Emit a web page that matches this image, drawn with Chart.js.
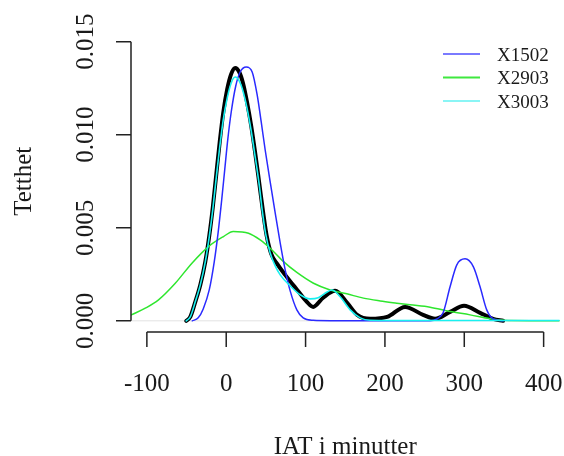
<!DOCTYPE html>
<html>
<head>
<meta charset="utf-8">
<script src="https://cdn.jsdelivr.net/npm/chart.js@4.4.0/dist/chart.umd.min.js"></script>
<style>
html, body { margin: 0; padding: 0; background: #fff; }
#wrap { width: 564px; height: 456px; }
</style>
</head>
<body>
<div id="wrap"><canvas id="grafico" width="564" height="456"></canvas></div>
<script>
// Akser og tekst
var xTicks = [-100, 0, 100, 200, 300, 400];
var yTicks = [0, 0.005, 0.010, 0.015];
var yTickLabels = ['0.000', '0.005', '0.010', '0.015'];
var xTittel = 'IAT i minutter';
var yTittel = 'Tetthet';
var legendLabels = ['X1502', 'X2903', 'X3003'];

// Tetthet for X1502 (blå)
var x1502X = [-42.8, -35.3, -29.0, -21.4, -15.1, -10.1, -5.7, -1.9, 1.9, 6.3, 12.0, 17.6, 25.2, 32.7, 39.0, 44.1, 49.1, 55.4, 61.7, 68.0, 74.3, 80.6, 89.0, 97.0, 109.6, 131.0, 200, 256.9, 265.7, 273.3, 282.1, 290.6, 301.0, 311.5, 319.9, 328.3, 336.3, 348.9];
var x1502Y = [0, 0.00016, 0.00064, 0.00166, 0.00317, 0.00478, 0.0065, 0.00811, 0.00972, 0.01122, 0.01262, 0.01337, 0.01364, 0.01337, 0.01214, 0.01069, 0.00918, 0.00747, 0.0058, 0.00419, 0.00274, 0.00161, 0.00059, 0.00016, 0.00003, 0.00001, 0.00001, 0.00001, 0.00011, 0.00043, 0.00183, 0.00301, 0.00333, 0.0029, 0.00183, 0.00059, 0.00011, 0];

// Tetthet for X2903 (grønn)
var x2903X = [-119.6, -102.0, -85.3, -64.2, -43.2, -22.3, -3.4, 8.8, 28.1, 42.8, 55.4, 72.2, 89.0, 110.0, 131.0, 152.0, 172.9, 194.0, 215.0, 231.7, 256.9, 282.1, 307.3, 332.5, 348.9, 382.9, 420];
var x2903Y = [0.00032, 0.00068, 0.00113, 0.00202, 0.0031, 0.00399, 0.00453, 0.0048, 0.00471, 0.00435, 0.0039, 0.00318, 0.0026, 0.00202, 0.00166, 0.00145, 0.00122, 0.00107, 0.00095, 0.00086, 0.00073, 0.0005, 0.00032, 0.00011, 0.00003, 0.00001, 0.00001];

// Tetthet for X3003 (cyan)
var x3003X = [-50.4, -45.3, -39.0, -32.7, -26.4, -21.4, -17.0, -12.6, -8.2, -3.8, 1.3, 6.3, 11.3, 16.4, 21.4, 26.4, 31.5, 36.5, 41.6, 45.3, 49.7, 55.4, 61.7, 68.0, 80.6, 93.2, 105.8, 115.9, 123.4, 133.5, 143.6, 156.2, 168.8, 181.4, 206.5, 260, 320, 380, 420];
var x3003Y = [0, 0.00021, 0.00102, 0.00193, 0.00317, 0.00451, 0.00596, 0.00768, 0.00934, 0.01079, 0.01198, 0.01278, 0.0131, 0.01289, 0.0123, 0.01139, 0.0102, 0.00881, 0.0073, 0.00596, 0.00467, 0.00365, 0.00295, 0.00247, 0.00188, 0.0014, 0.00118, 0.00124, 0.00145, 0.00166, 0.00129, 0.00059, 0.00016, 0.00003, 0.00002, 0.00002, 0.00002, 0.00002, 0.00002];

// Tetthet for alle (svart, tykk)
var alleX = [-50.4, -45.3, -39.0, -32.7, -26.4, -21.4, -17.0, -12.6, -8.2, -3.8, 1.3, 6.3, 11.3, 16.4, 21.4, 26.4, 31.5, 36.5, 41.6, 46.6, 51.0, 56.7, 64.2, 74.3, 89.4, 101.6, 109.6, 122.2, 137.3, 152.4, 165.0, 181.4, 202.8, 225.4, 248.1, 263.2, 282.1, 299.7, 319.9, 336.3, 348.9];
var alleY = [0, 0.00021, 0.00102, 0.00193, 0.00317, 0.00456, 0.00607, 0.00784, 0.00961, 0.01117, 0.01246, 0.01327, 0.01359, 0.01337, 0.01273, 0.01171, 0.01047, 0.00902, 0.00741, 0.0058, 0.00456, 0.0036, 0.00306, 0.00247, 0.00166, 0.00102, 0.00075, 0.00124, 0.00161, 0.00097, 0.00032, 0.00011, 0.00021, 0.00075, 0.00032, 0.00011, 0.00048, 0.00081, 0.00043, 0.00011, 0];

function punkter(xs, ys) {
    return xs.map(function (x, i) { return { x: x, y: ys[i] }; });
}

var serif = '"Liberation Serif", "DejaVu Serif", serif';

// Tegner R-aktige akser, nullinje og legende
var rPlugin = {
    id: 'rAkser',
    beforeDatasetsDraw: function (chart) {
        var ctx = chart.ctx, area = chart.chartArea;
        var y0 = chart.scales.y.getPixelForValue(0);
        ctx.save();
        ctx.strokeStyle = '#e2e2e2';
        ctx.lineWidth = 1;
        ctx.beginPath();
        ctx.moveTo(area.left, y0);
        ctx.lineTo(area.right, y0);
        ctx.stroke();
        ctx.restore();
    },
    afterDraw: function (chart) {
        var ctx = chart.ctx, area = chart.chartArea;
        var xs = chart.scales.x, ys = chart.scales.y;
        ctx.save();
        ctx.strokeStyle = '#222';
        ctx.fillStyle = '#1a1a1a';
        ctx.lineWidth = 1.5;

        // x-akse
        var yb = area.bottom;
        ctx.beginPath();
        ctx.moveTo(xs.getPixelForValue(xTicks[0]), yb);
        ctx.lineTo(xs.getPixelForValue(xTicks[xTicks.length - 1]), yb);
        xTicks.forEach(function (t) {
            var px = xs.getPixelForValue(t);
            ctx.moveTo(px, yb);
            ctx.lineTo(px, yb + 15);
        });
        ctx.stroke();
        ctx.font = '25px ' + serif;
        ctx.textAlign = 'center';
        ctx.textBaseline = 'alphabetic';
        xTicks.forEach(function (t) {
            ctx.fillText(String(t), xs.getPixelForValue(t), yb + 59);
        });
        ctx.fillText(xTittel, (area.left + area.right) / 2, yb + 122);

        // y-akse
        var xl = area.left;
        ctx.beginPath();
        ctx.moveTo(xl, ys.getPixelForValue(yTicks[0]));
        ctx.lineTo(xl, ys.getPixelForValue(yTicks[yTicks.length - 1]));
        yTicks.forEach(function (t) {
            var py = ys.getPixelForValue(t);
            ctx.moveTo(xl, py);
            ctx.lineTo(xl - 15, py);
        });
        ctx.stroke();
        yTicks.forEach(function (t, i) {
            ctx.save();
            ctx.translate(xl - 38, ys.getPixelForValue(t));
            ctx.rotate(-Math.PI / 2);
            ctx.fillText(yTickLabels[i], 0, 0);
            ctx.restore();
        });
        ctx.save();
        ctx.translate(31, (area.top + area.bottom) / 2);
        ctx.rotate(-Math.PI / 2);
        ctx.fillText(yTittel, 0, 0);
        ctx.restore();

        // legende
        var farger = ['#7a7aff', '#3fe83f', '#8af5f5'];
        ctx.font = '19px ' + serif;
        ctx.textAlign = 'left';
        legendLabels.forEach(function (lab, i) {
            var ly = 54 + i * 23.5;
            ctx.strokeStyle = farger[i];
            ctx.lineWidth = 2;
            ctx.beginPath();
            ctx.moveTo(443, ly);
            ctx.lineTo(480, ly);
            ctx.stroke();
            ctx.fillText(lab, 497, ly + 6.5);
        });
        ctx.restore();
    }
};

var ctx = document.getElementById('grafico').getContext('2d');
var chart = new Chart(ctx, {
    type: 'line',
    data: {
        datasets: [
            { label: 'X3003', data: punkter(x3003X, x3003Y), borderColor: '#19f0f0', borderWidth: 1.6 },
            { label: 'X1502', data: punkter(x1502X, x1502Y), borderColor: '#2a2aff', borderWidth: 1.5 },
            { label: 'X2903', data: punkter(x2903X, x2903Y), borderColor: '#2ee62e', borderWidth: 1.5 },
            { label: 'Alle', data: punkter(alleX, alleY), borderColor: '#000', borderWidth: 4 }
        ]
    },
    options: {
        responsive: false,
        animation: false,
        layout: { padding: { left: 131, right: 4.5, top: 30.5, bottom: 124 } },
        plugins: { legend: { display: false }, tooltip: { enabled: false } },
        elements: {
            point: { radius: 0 },
            line: { cubicInterpolationMode: 'monotone', fill: false, borderJoinStyle: 'round', borderCapStyle: 'round' }
        },
        scales: {
            x: { type: 'linear', min: -120, max: 420, display: false },
            y: { type: 'linear', min: -0.0006, max: 0.0156, display: false }
        }
    },
    plugins: [rPlugin]
});
</script>
</body>
</html>
